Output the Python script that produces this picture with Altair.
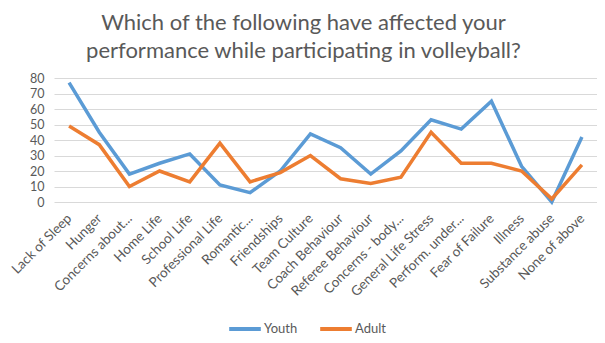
import altair as alt
import pandas as pd

categories = ["Lack of Sleep", "Hunger", "Concerns about...", "Home Life", "School Life",
              "Professional Life", "Romantic...", "Friendships", "Team Culture",
              "Coach Behaviour", "Referee Behaviour", "Concerns - body...",
              "General Life Stress", "Perform. under...", "Fear of Failure", "Illness",
              "Substance abuse", "None of above"]
youth = [77, 45, 18, 25, 31, 11, 6, 20, 44, 35, 18, 33, 53, 47, 65, 23, 0, 42]
adult = [49, 37, 10, 20, 13, 38, 13, 19, 30, 15, 12, 16, 45, 25, 25, 20, 2, 24]
series = ["Youth", "Adult"]
colors = ["#5B9BD5", "#ED7D31"]

rows = []
for i, c in enumerate(categories):
    rows.append({"cat": c, "series": "Youth", "value": youth[i], "order": i})
    rows.append({"cat": c, "series": "Adult", "value": adult[i], "order": i})
df = pd.DataFrame(rows)

FONT = "Lato"
GRAY = "#595959"

chart = alt.Chart(df).mark_line(strokeWidth=3.5).encode(
    x=alt.X("cat:N", sort=categories,
            scale=alt.Scale(type="point", padding=0.5),
            axis=alt.Axis(title=None, labelAngle=-45, labelAlign="right",
                          labelBaseline="middle", ticks=False, domain=False,
                          labelFontSize=13.5, labelColor=GRAY, labelFont=FONT,
                          labelPadding=14, grid=False)),
    y=alt.Y("value:Q", scale=alt.Scale(domain=[0, 80], nice=False),
            axis=alt.Axis(title=None, values=list(range(0, 90, 10)), ticks=False,
                          domain=False, labelFontSize=12.5, labelColor=GRAY,
                          labelFont=FONT, labelPadding=10, gridColor="#D9D9D9",
                          gridWidth=1)),
    color=alt.Color("series:N", sort=series,
                    scale=alt.Scale(domain=series, range=colors),
                    legend=alt.Legend(title=None, orient="none", direction="horizontal",
                                      legendX=173, legendY=233, symbolType="stroke",
                                      symbolStrokeWidth=4, symbolSize=1000,
                                      labelFontSize=13, labelColor=GRAY, labelFont=FONT,
                                      columnPadding=14, labelOffset=1)),
    detail="series:N",
    order="order:Q",
).properties(
    width=543, height=124,
    autosize=alt.AutoSizeParams(type="none"),
    padding={"left": 46, "top": 70, "right": 0, "bottom": 133},
    title=alt.TitleParams(
        text=["Which of the following have affected your",
              "performance while participating in volleyball?"],
        fontSize=22, font=FONT, color=GRAY, fontWeight="normal",
        anchor="middle", dx=-22, offset=9, lineHeight=28),
).configure_view(stroke=None)

chart.save("out.html", embed_options={"renderer": "svg", "actions": False})
